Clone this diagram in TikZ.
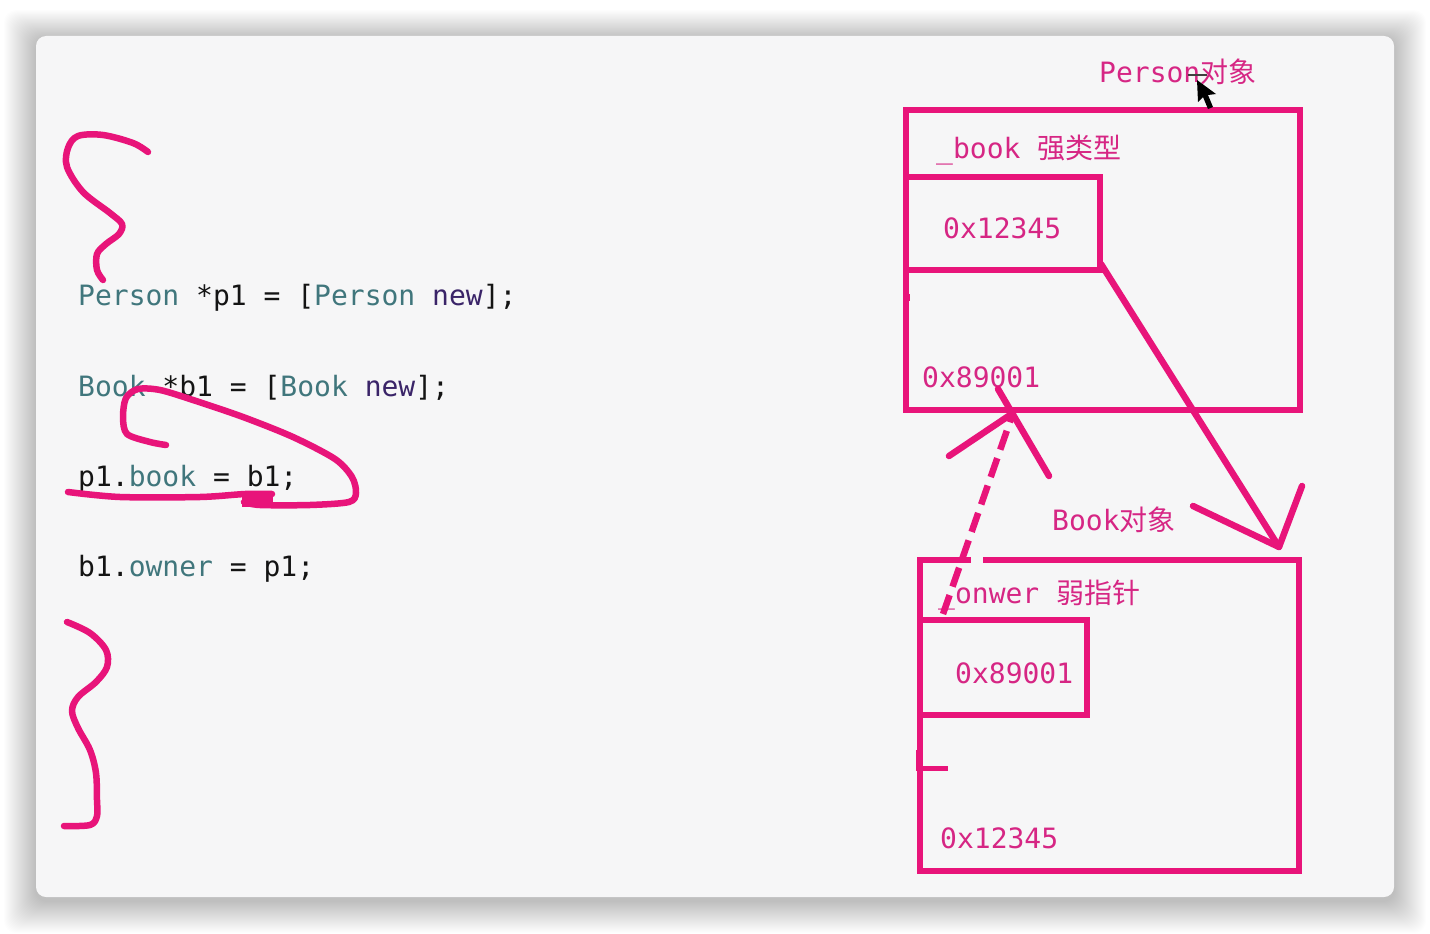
\documentclass[tikz,border=0pt]{standalone}
\usepackage{fontspec}
\setmonofont{DejaVu Sans Mono}
\newfontfamily\hanzi{Noto Sans CJK SC}
\definecolor{pinkline}{RGB}{232,20,122}
\definecolor{pinktext}{RGB}{214,38,132}
\definecolor{clsteal}{RGB}{64,118,124}
\definecolor{methpurple}{RGB}{58,36,104}
\definecolor{codeink}{RGB}{20,20,20}
\definecolor{panelbg}{RGB}{246,246,247}
\newcommand{\codefont}{\ttfamily\fontsize{28}{28}\selectfont}
\newcommand{\cls}[1]{\textcolor{clsteal}{#1}}
\newcommand{\meth}[1]{\textcolor{methpurple}{#1}}
\begin{document}
\begin{tikzpicture}[x=1pt,y=-1pt]
\tikzset{
  box/.style={draw=pinkline, line width=5.5pt, inner sep=0pt, outer sep=0pt, anchor=north west},
  ink/.style={draw=pinkline, line width=6.5pt, line cap=round, line join=round},
  codeline/.style={anchor=base west, inner sep=0pt, text=codeink, font=\codefont},
  memo/.style={anchor=base west, inner sep=0pt, text=pinktext, font=\codefont},
}
\useasboundingbox (0,0) rectangle (1430,934);
\fill[white] (0,0) rectangle (1430,934);

% soft shadow round the panel
\foreach \s in {1,...,32}{
  \fill[black, opacity=0.0065, rounded corners=12pt]
    (36-\s,36-0.9*\s+3) rectangle (1394+\s,897+\s+4);
}
% panel
\fill[panelbg, rounded corners=10pt] (36,36) rectangle (1394,897);

% ---------------- code ----------------
\node[codeline] (l1) at (78,305) {\cls{Person} *p1 = [\cls{Person} \meth{new}];};
\node[codeline] (l2) at (78,396) {\cls{Book} *b1 = [\cls{Book} \meth{new}];};
\node[codeline] (l3) at (78,486) {p1.\cls{book} = b1;};
\node[codeline] (l4) at (78,576) {b1.\cls{owner} = p1;};

% ---------------- hand-drawn marks on the code ----------------
\draw[ink] plot[smooth, tension=0.55] coordinates {
  (148,152) (133,143) (103,135) (78,136) (68,148) (67,167) (83,192)
  (110,213) (122,224) (119,234) (106,244) (97,254) (97,270) (103,280)};
\draw[ink] plot[smooth, tension=0.55] coordinates {
  (67,622) (90,633) (106,650) (107,667) (96,682) (78,697) (72,711)
  (78,728) (90,750) (96,773) (97,800) (97,816) (90,825) (64,826)};
\draw[ink] plot[smooth, tension=0.5] coordinates {
  (166,445) (150,442) (127,434) (123,417) (126,398) (138,389) (160,390)
  (193,400) (243,417) (293,437) (335,459) (352,477) (356,493) (349,502)
  (310,505) (260,505) (244,502)};
\draw[ink] plot[smooth, tension=0.5] coordinates {
  (68,492) (120,497) (200,497) (245,494) (272,494)};
\fill[pinkline] (242,493) rectangle (273,507);

% ---------------- Person object ----------------
\node[memo] (ptitle) at (1099,83) {Person{\hanzi 对象}};
\node[box, minimum width=394pt, minimum height=300pt] (person) at (906,110) {};
\node[box, minimum width=194pt, minimum height=93pt] (pslot) at (906,177) {};
\node[memo] (pfield) at (936,158) {\_book {\hanzi 强类型}};
\node[memo] (pval) at (943,238) {0x12345};
\node[memo] (paddr) at (922,387) {0x89001};
\draw[pinkline, line width=3pt] (908,294) -- (908,301);

% ---------------- Book object ----------------
\node[memo] (btitle) at (1052,530) {Book{\hanzi 对象}};
\node[box, minimum width=379pt, minimum height=311pt] (book) at (920,560) {};
\fill[panelbg] (971,554) rectangle (983,566);
\node[box, minimum width=167pt, minimum height=95pt] (bslot) at (920,620) {};
\node[memo] (bfield) at (938,603) {\_onwer {\hanzi 弱指针}};
\node[memo] (bval) at (955,683) {0x89001};
\node[memo] (baddr) at (940,848) {0x12345};
\draw[pinkline, line width=5pt] (918,750) -- (918,768) -- (948,768);

% ---------------- strong reference: _book -> Book object ----------------
\coordinate (strongtip) at (1279,547);
\coordinate (strongl) at (1193,506);
\coordinate (strongr) at (1302,486);
\draw[ink] (pslot.south east) ++(1,-6) -- (strongtip);
\draw[ink] (strongl) -- (strongtip) -- (strongr);

% ---------------- weak reference: _onwer -> Person object ----------------
\coordinate (weakfrom) at (943,614);
\coordinate (weaktip) at (1013,413);
\coordinate (weakl) at (949,456);
\coordinate (weakr) at (1049,476);
\coordinate (weakover) at (998,389);
\draw[pinkline, line width=6.5pt, dash pattern=on 20pt off 9pt] (weakfrom) -- (weaktip);
\draw[ink] (weakl) -- (weaktip);
\draw[ink] (weakr) -- (weakover);

% ---------------- mouse pointer ----------------
\draw[black!75, line width=1.5pt] (1188,75) -- (1207,75);
\fill[black] (1197,80) -- (1198,102) -- (1203,97) -- (1208,109) -- (1213,107)
  -- (1208,95) -- (1216,94) -- cycle;
\end{tikzpicture}
\end{document}
